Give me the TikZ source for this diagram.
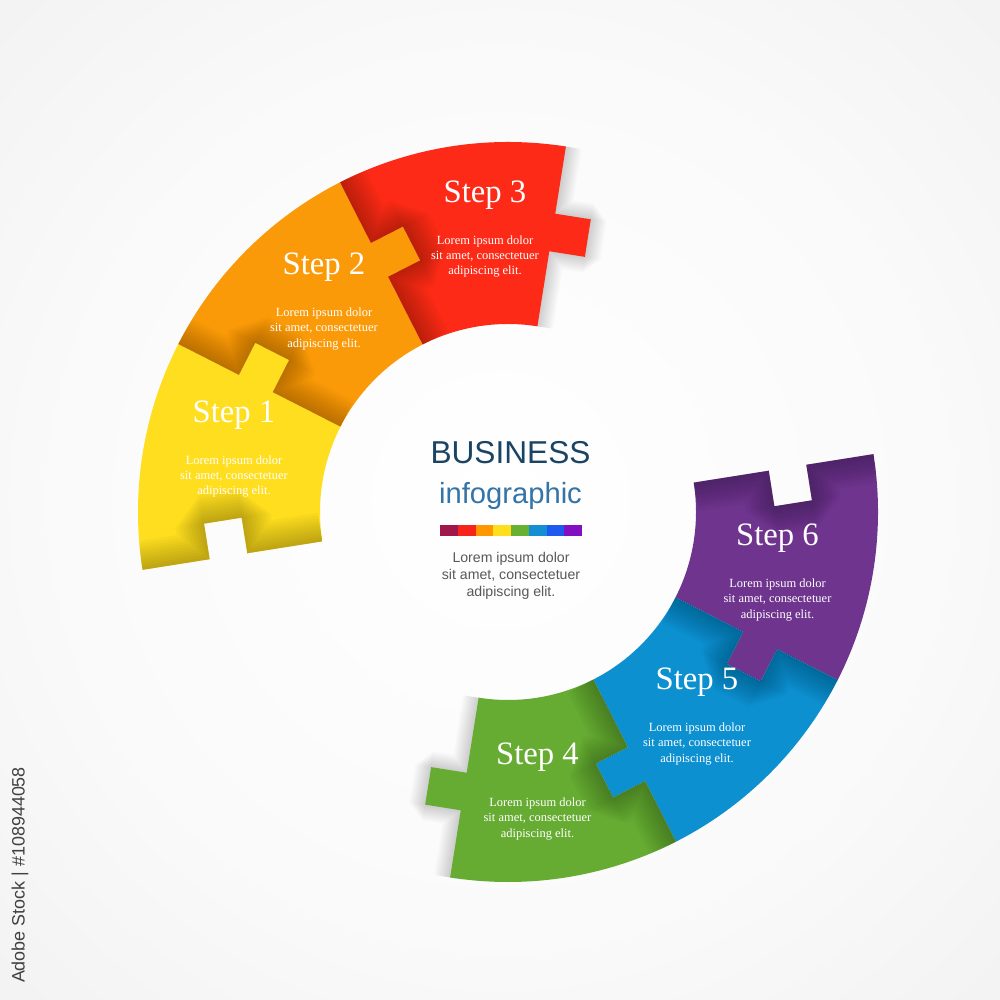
\documentclass[tikz,border=0pt]{standalone}
\usepackage{fontspec}
\setmainfont{Liberation Serif}
\setsansfont{Liberation Sans}
\usepackage{tikz}
\usetikzlibrary{positioning}

\definecolor{stepyellow}{RGB}{254,222,30}
\definecolor{steporange}{RGB}{251,154,8}
\definecolor{stepred}{RGB}{252,42,22}
\definecolor{stepgreen}{RGB}{102,172,50}
\definecolor{stepblue}{RGB}{12,144,208}
\definecolor{steppurple}{RGB}{110,52,142}
\definecolor{titlenavy}{RGB}{26,68,100}
\definecolor{titleblue}{RGB}{52,116,166}
\definecolor{bodygray}{RGB}{88,88,88}
\definecolor{barmaroon}{RGB}{160,24,74}
\definecolor{barred}{RGB}{246,36,26}
\definecolor{barorange}{RGB}{255,152,0}
\definecolor{baryellow}{RGB}{255,222,30}
\definecolor{bargreen}{RGB}{104,176,50}
\definecolor{barblue}{RGB}{20,144,210}
\definecolor{barroyal}{RGB}{30,90,240}
\definecolor{barviolet}{RGB}{128,16,192}

\pgfdeclareradialshading{bgglow}{\pgfpoint{0bp}{0bp}}{color(0bp)=(white); color(22bp)=(black!2); color(50bp)=(black!8); color(71bp)=(black!14)}

% one piece of the ring, 36 degrees wide, tab on its clockwise side
\newcommand{\puzzlepiece}{(0:1.88) -- (0:2.64) -- (2.64,-0.36) -- (3.02,-0.36) -- (3.02,0) -- (0:3.70) arc[start angle=0, end angle=36, radius=3.70] -- (36:3.02) -- ([rotate=36]3.02,-0.36) -- ([rotate=36]2.64,-0.36) -- (36:2.64) -- (36:1.88) arc[start angle=36, end angle=0, radius=1.88] -- cycle}
\newcommand{\tabedge}{(0:1.88) -- (0:2.64) -- (2.64,-0.36) -- (3.02,-0.36) -- (3.02,0) -- (0:3.70)}
\newcommand{\notchedge}{(36:1.88) -- (36:2.64) -- ([rotate=36]2.64,-0.36) -- ([rotate=36]3.02,-0.36) -- (36:3.02) -- (36:3.70)}

\begin{document}
\begin{tikzpicture}[
    steplabel/.style={font=\fontsize{9.3}{11}\selectfont, text=white, inner sep=0pt},
    steptext/.style={font=\fontsize{3.55}{4.3}\selectfont, text=white, align=center, inner sep=0pt},
    fold/.style={black, opacity=0.024, line join=bevel},
    castshadow/.style={black, opacity=0.018, line join=bevel}
]

% backdrop
\shade[shading=bgglow] (-5.08,-4.88) rectangle (4.92,5.12);
\useasboundingbox (-5.08,-4.88) rectangle (4.92,5.12);

% shadow of the two loose ends
\foreach \ang in {81,261}
  \foreach \w in {1,2,...,9}
    \draw[castshadow, line width=\w pt, rotate=\ang] \tabedge;

% ring pieces
\foreach \ang/\col in {153/stepyellow,117/steporange,81/stepred,333/steppurple,297/stepblue,261/stepgreen}{
  \begin{scope}[rotate=\ang]
    \fill[\col] \puzzlepiece;
    \begin{scope}
      \clip \puzzlepiece;
      \foreach \w in {1.5,3,...,16.5}
        \draw[fold, line width=\w pt] \notchedge;
    \end{scope}
  \end{scope}
}

% step texts
\node[steplabel] (s1lbl) at (-2.74,0.97) {Step 1};
\node[steptext, below=0.25cm of s1lbl] (s1txt) {Lorem ipsum dolor\\sit amet, consectetuer\\adipiscing elit.};
\node[steplabel] (s2lbl) at (-1.84,2.445) {Step 2};
\node[steptext, below=0.25cm of s2lbl] (s2txt) {Lorem ipsum dolor\\sit amet, consectetuer\\adipiscing elit.};
\node[steplabel] (s3lbl) at (-0.23,3.17) {Step 3};
\node[steptext, below=0.25cm of s3lbl] (s3txt) {Lorem ipsum dolor\\sit amet, consectetuer\\adipiscing elit.};
\node[steplabel] (s4lbl) at (0.295,-2.455) {Step 4};
\node[steptext, below=0.25cm of s4lbl] (s4txt) {Lorem ipsum dolor\\sit amet, consectetuer\\adipiscing elit.};
\node[steplabel] (s5lbl) at (1.89,-1.705) {Step 5};
\node[steptext, below=0.25cm of s5lbl] (s5txt) {Lorem ipsum dolor\\sit amet, consectetuer\\adipiscing elit.};
\node[steplabel] (s6lbl) at (2.695,-0.265) {Step 6};
\node[steptext, below=0.25cm of s6lbl] (s6txt) {Lorem ipsum dolor\\sit amet, consectetuer\\adipiscing elit.};

% centre
\node[font=\sffamily\fontsize{9}{10}\selectfont, text=titlenavy, inner sep=0pt] (title) at (0.025,0.593) {BUSINESS};
\node[font=\sffamily\fontsize{8.3}{9}\selectfont, text=titleblue, inner sep=0pt, below=0.17cm of title] (subtitle) {infographic};
\foreach \col [count=\i from 0] in {barmaroon,barred,barorange,baryellow,bargreen,barblue,barroyal,barviolet}
  \fill[\col] (-0.68+0.1775*\i,-0.237) rectangle ++(0.1775,0.104);
\node[font=\sffamily\fontsize{4.02}{4.84}\selectfont, text=bodygray, align=center, inner sep=0pt] (intro) at (0.03,-0.635) {Lorem ipsum dolor\\sit amet, consectetuer\\adipiscing elit.};

% side stamp
\node[font=\sffamily\fontsize{5.1}{6}\selectfont, text=black!75, rotate=90, inner sep=0pt] (stamp) at (-4.88,-3.63) {Adobe Stock | \#108944058};

\end{tikzpicture}
\end{document}
